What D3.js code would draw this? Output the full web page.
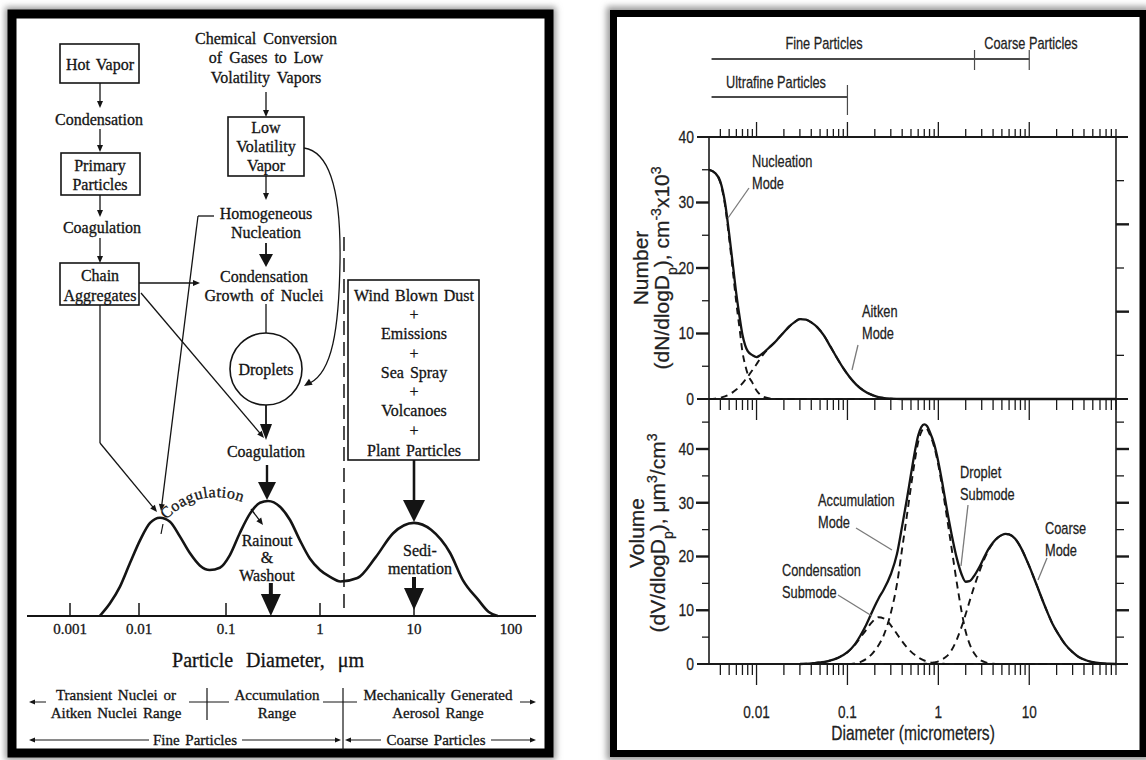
<!DOCTYPE html>
<html>
<head>
<meta charset="utf-8">
<script src="https://cdn.jsdelivr.net/npm/d3@7"></script>
<style>
  body { margin: 0; background: #fff; }
  svg { display: block; }
  .serif { font-family: "Liberation Serif", "Times New Roman", serif; fill: #141414; stroke: #141414; stroke-width: 0.3; }
  .narrow { font-family: "Liberation Sans Narrow", "Arial Narrow", "Liberation Sans", sans-serif; fill: #222; stroke: #222; stroke-width: 0.25; }
</style>
</head>
<body>
<div id="chart"></div>
<script>
// ---- left panel: schematic trimodal distribution ----
const leftTicks = [0.001, 0.01, 0.1, 1, 10, 100];
const leftTickLabels = ["0.001", "0.01", "0.1", "1", "10", "100"];
const leftDiam = [0.0027, 0.0038, 0.0053, 0.0074, 0.0103, 0.0134, 0.0174, 0.0227, 0.0296, 0.0386, 0.05, 0.065, 0.085,
  0.11, 0.14, 0.18, 0.23, 0.28, 0.375, 0.48, 0.61, 0.78, 1.0, 1.28, 1.65, 2.5, 3.9, 6.0, 10, 15, 23.5, 32, 46, 59, 73];
const leftConc = [0, 0.11, 0.255, 0.46, 0.66, 0.81, 0.855, 0.82, 0.69, 0.545, 0.44, 0.40, 0.42,
  0.53, 0.72, 0.89, 0.985, 1.0, 0.95, 0.835, 0.66, 0.50, 0.40, 0.34, 0.30, 0.33, 0.51, 0.72, 0.81, 0.75, 0.55, 0.31, 0.14, 0.035, 0];
const fineCoarseCut = 1.8;

// ---- right panel: number and volume distributions ----
const rightTicks = [0.01, 0.1, 1, 10];
const rightTickLabels = ["0.01", "0.1", "1", "10"];
const yTicks = [0, 10, 20, 30, 40];

const numDiam = [0.003, 0.0035, 0.004, 0.0045, 0.005, 0.0055, 0.006, 0.0065, 0.007, 0.0075, 0.008, 0.009, 0.01, 0.011,
  0.0125, 0.014, 0.016, 0.018, 0.02, 0.023, 0.026, 0.03, 0.035, 0.04, 0.047, 0.055, 0.065, 0.075, 0.09, 0.105,
  0.125, 0.15, 0.18, 0.21, 0.25, 0.3, 0.4, 0.6, 1, 3, 10, 90];
const numTotal = [35, 34.5, 33.2, 30, 25.2, 20.4, 16, 12.6, 9.8, 8.2, 7.3, 6.7, 6.4, 6.7,
  7.3, 7.95, 8.7, 9.5, 10.2, 11.1, 11.7, 12.2, 12.1, 11.7, 10.9, 9.7, 8.0, 6.5, 4.7, 3.4,
  2.2, 1.3, 0.7, 0.35, 0.15, 0.05, 0, 0, 0, 0, 0, 0];
const numNucleation = [35, 34.5, 33, 29.6, 24.5, 19.4, 14.6, 10.8, 7.2, 5.2, 3.8, 2.5, 1.3, 0.65,
  0.25, 0.08, 0.02, 0, 0, 0, 0, 0, 0, 0, 0, 0, 0, 0, 0, 0,
  0, 0, 0, 0, 0, 0, 0, 0, 0, 0, 0, 0];
const numAitken = [0, 0.05, 0.2, 0.4, 0.7, 1.05, 1.45, 1.9, 2.4, 2.9, 3.4, 4.4, 5.3, 6.2,
  7.2, 7.9, 8.7, 9.5, 10.2, 11.1, 11.7, 12.2, 12.1, 11.7, 10.9, 9.7, 8.0, 6.5, 4.7, 3.4,
  2.2, 1.3, 0.7, 0.35, 0.15, 0.05, 0, 0, 0, 0, 0, 0];

const volDiam = [0.03, 0.04, 0.05, 0.06, 0.07, 0.08, 0.1, 0.12, 0.14, 0.16, 0.18, 0.2, 0.22, 0.25,
  0.3, 0.35, 0.4, 0.45, 0.5, 0.55, 0.6, 0.65, 0.7, 0.75, 0.8, 0.9,
  1.0, 1.1, 1.25, 1.4, 1.6, 1.8, 2.0, 2.2, 2.5, 2.8,
  3.2, 3.6, 4, 4.5, 5, 5.5, 6, 7, 8,
  10, 12, 15, 18, 21, 25, 30, 35, 42, 50, 60, 75, 90];
const volTotal = [0, 0.1, 0.3, 0.5, 0.8, 1.2, 2.2, 3.6, 5.4, 7.2, 9.1, 10.8, 12.2, 13.8,
  16.7, 20.4, 25.7, 30.6, 35.3, 39.4, 42.5, 44.1, 44.6, 44.3, 43.3, 40.9,
  37.6, 33.9, 28.5, 24.1, 19.6, 16.7, 15.3, 15.4, 16.5, 17.9,
  19.9, 21.5, 22.6, 23.5, 24, 24.2, 24.1, 23.3, 21.8,
  18.2, 14.8, 10.6, 7.5, 5.5, 3.6, 2.2, 1.3, 0.7, 0.35, 0.15, 0.05, 0];
const volCondensation = [0, 0.1, 0.3, 0.5, 0.8, 1.2, 2.2, 3.5, 5.0, 6.3, 7.5, 8.3, 8.7, 8.5,
  7.2, 5.6, 4.2, 3.1, 2.3, 1.7, 1.25, 0.9, 0.65, 0.5, 0.35, 0.2,
  0.1, 0.05, 0, 0, 0, 0, 0, 0, 0, 0,
  0, 0, 0, 0, 0, 0, 0, 0, 0,
  0, 0, 0, 0, 0, 0, 0, 0, 0, 0, 0, 0, 0];
const volDroplet = [0, 0, 0, 0, 0, 0, 0, 0.1, 0.4, 0.9, 1.6, 2.5, 3.5, 5.3,
  9.5, 14.8, 21.5, 27.5, 33, 37.7, 41.3, 43.2, 43.9, 43.7, 42.8, 40.4,
  37, 33, 27, 21.5, 15, 9.8, 6.0, 3.8, 1.9, 0.9,
  0.4, 0.15, 0.05, 0, 0, 0, 0, 0, 0,
  0, 0, 0, 0, 0, 0, 0, 0, 0, 0, 0, 0, 0];
const volCoarse = [0, 0, 0, 0, 0, 0, 0, 0, 0, 0, 0, 0, 0, 0,
  0, 0, 0, 0, 0, 0, 0, 0, 0.05, 0.08, 0.12, 0.3,
  0.5, 0.85, 1.5, 2.6, 4.6, 6.9, 9.3, 11.6, 14.6, 17,
  19.5, 21.3, 22.5, 23.5, 24, 24.2, 24.1, 23.3, 21.8,
  18.2, 14.8, 10.6, 7.5, 5.5, 3.6, 2.2, 1.3, 0.7, 0.35, 0.15, 0.05, 0];

const ink = "#141414";
const svg = d3.select("#chart").append("svg").attr("width", 1146).attr("height", 760);
svg.append("rect").attr("width", 1146).attr("height", 760).attr("fill", "#fff");

// soft grey halo round the two black frames
svg.append("defs").append("filter").attr("id", "halo").attr("x", "-5%").attr("y", "-5%")
  .attr("width", "110%").attr("height", "110%")
  .append("feGaussianBlur").attr("stdDeviation", 3);
[[12, 14, 537, 739], [613.5, 13.5, 529.5, 740]].forEach(([x, y, w, h]) =>
  svg.append("rect").attr("x", x).attr("y", y).attr("width", w).attr("height", h)
    .attr("fill", "none").attr("stroke", "#9a9a9a").attr("stroke-width", 14).attr("filter", "url(#halo)"));

// text helper; "narrow" text is squeezed horizontally to mimic a condensed sans
function txt(g, x, y, s, size, opts = {}) {
  const cls = opts.cls || "serif";
  const t = g.append("text").attr("dy", "0.35em")
    .attr("text-anchor", opts.anchor || "middle")
    .attr("font-size", size).attr("class", cls).text(s);
  if (cls === "narrow") t.attr("transform", `translate(${x},${y}) scale(${opts.sx || 0.82},1)`);
  else t.attr("x", x).attr("y", y);
  if (opts.ws) t.style("word-spacing", opts.ws + "px");
  return t;
}
function box(g, x0, y0, x1, y1) {
  g.append("rect").attr("x", x0).attr("y", y0).attr("width", x1 - x0).attr("height", y1 - y0)
    .attr("fill", "none").attr("stroke", ink).attr("stroke-width", 1.6);
}
function seg(g, x1, y1, x2, y2, w = 1.3, col = ink) {
  return g.append("line").attr("x1", x1).attr("y1", y1).attr("x2", x2).attr("y2", y2)
    .attr("stroke", col).attr("stroke-width", w);
}
function head(g, x2, y2, a, hl, hw) {
  const bx = x2 - hl * Math.cos(a), by = y2 - hl * Math.sin(a);
  g.append("path")
    .attr("d", `M${x2},${y2}L${bx + hw * Math.sin(a)},${by - hw * Math.cos(a)}L${bx - hw * Math.sin(a)},${by + hw * Math.cos(a)}Z`)
    .attr("fill", ink);
  return [bx, by];
}
function arrow(g, x1, y1, x2, y2, o = {}) {
  const hl = o.hl || 7, hw = o.hw || 3, sw = o.sw || 1.3;
  const a = Math.atan2(y2 - y1, x2 - x1);
  const [bx, by] = head(g, x2, y2, a, hl, hw);
  seg(g, x1, y1, bx + Math.cos(a), by + Math.sin(a), sw);
}

// ================= LEFT PANEL =================
const L = svg.append("g");
L.append("rect").attr("x", 12).attr("y", 14).attr("width", 537).attr("height", 739)
  .attr("fill", "#fff").attr("stroke", "#000").attr("stroke-width", 9);

const xl = d3.scaleLog().domain(leftTicks).range([70, 139, 226, 320, 414, 511]);
const yl = d3.scaleLinear().domain([0, 1]).range([616, 501]);

// flow diagram
txt(L, 266, 38, "Chemical Conversion", 16, { ws: 3 });
txt(L, 266, 57, "of Gases to Low", 16, { ws: 3 });
txt(L, 266, 77, "Volatility Vapors", 16, { ws: 3 });

box(L, 60, 44, 139, 83); txt(L, 100, 64, "Hot Vapor", 16, { ws: 2 });
arrow(L, 100, 83, 100, 108);
txt(L, 99, 119, "Condensation", 16);
arrow(L, 100, 129, 100, 152);
box(L, 61, 153, 140, 195); txt(L, 100, 165, "Primary", 16); txt(L, 100, 184, "Particles", 16);
arrow(L, 100, 195, 100, 217);
txt(L, 102, 227, "Coagulation", 16);
arrow(L, 100, 238, 100, 263);
box(L, 60, 263, 139, 305); txt(L, 100, 275, "Chain", 16); txt(L, 100, 295, "Aggregates", 16);

box(L, 228, 117, 304, 176);
txt(L, 266, 127, "Low", 16); txt(L, 266, 146, "Volatility", 16); txt(L, 266, 165, "Vapor", 16);
arrow(L, 266, 92, 266, 117);
arrow(L, 266, 176, 266, 200);
txt(L, 266, 213, "Homogeneous", 16); txt(L, 266, 232, "Nucleation", 16);
arrow(L, 266, 243, 266, 267, { hl: 13, hw: 7, sw: 1.8 });
txt(L, 264, 276, "Condensation", 16); txt(L, 264, 295, "Growth of Nuclei", 16, { ws: 3 });
seg(L, 266, 304, 266, 333);
L.append("circle").attr("cx", 266).attr("cy", 369).attr("r", 36)
  .attr("fill", "none").attr("stroke", ink).attr("stroke-width", 1.6);
txt(L, 266, 369, "Droplets", 16);
arrow(L, 266, 405, 266, 440, { hl: 16, hw: 6, sw: 1.8 });
txt(L, 266, 451, "Coagulation", 16);
arrow(L, 267, 465, 267, 500, { hl: 18, hw: 9, sw: 2.4 });

// links from chain aggregates and nucleation
arrow(L, 139, 283, 200, 283);
arrow(L, 141, 293, 264, 438);
seg(L, 100, 305, 100, 443);
arrow(L, 100, 443, 157, 512);
seg(L, 214, 216, 198, 216);
arrow(L, 198, 216, 161, 511);
L.append("path").attr("d", "M304,148 C332,152 341,200 340,262 C339,330 332,372 310,383")
  .attr("fill", "none").attr("stroke", ink).attr("stroke-width", 1.3);
head(L, 304, 386, Math.atan2(386 - 370, 304 - 330), 8, 3.5);

// fine / coarse divide
L.append("line").attr("x1", xl(fineCoarseCut)).attr("x2", xl(fineCoarseCut)).attr("y1", 237).attr("y2", 616)
  .attr("stroke", ink).attr("stroke-width", 1.5).attr("stroke-dasharray", "14,7");

box(L, 348, 280, 479, 460);
[["Wind Blown Dust", 295], ["+", 314], ["Emissions", 333], ["+", 353], ["Sea Spray", 372],
 ["+", 391], ["Volcanoes", 410], ["+", 430], ["Plant Particles", 450]]
  .forEach(([s, y]) => txt(L, 414, y, s, 16, { ws: 2 }));
arrow(L, 414, 460, 414, 522, { hl: 22, hw: 11, sw: 2.6 });

// distribution curve
const leftLine = d3.line().x((d, i) => xl(leftDiam[i])).y(d => yl(d)).curve(d3.curveMonotoneX);
L.append("path").attr("d", leftLine(leftConc)).attr("fill", "none").attr("stroke", ink).attr("stroke-width", 2.6);

// curved label and sinks
L.append("path").attr("id", "coagArc").attr("d", "M166,520 Q204,482 254,507").attr("fill", "none");
L.append("text").attr("class", "serif").attr("font-size", 16).style("letter-spacing", "0.5px")
  .append("textPath").attr("href", "#coagArc").text("Coagulation");
arrow(L, 251, 509, 263, 525, { hl: 7, hw: 3 });
seg(L, 163, 524, 161, 534, 1.2);
txt(L, 267, 540, "Rainout", 16);
txt(L, 267, 557, "&", 16);
txt(L, 267, 575, "Washout", 16);
arrow(L, xl(0.3), 583, xl(0.3), 616, { hl: 22, hw: 10, sw: 4 });
txt(L, 420, 550, "Sedi-", 16);
txt(L, 420, 568, "mentation", 16);
arrow(L, xl(10), 577, xl(10), 610, { hl: 22, hw: 10, sw: 4 });

// axis
seg(L, 27, 616, 536, 616, 2.2);
leftTicks.slice(0, 5).forEach(t => seg(L, xl(t), 603, xl(t), 616, 1.5));
leftTicks.forEach((t, i) => txt(L, xl(t), 629, leftTickLabels[i], 15));
txt(L, 268, 660, "Particle Diameter, \u03bcm", 20, { ws: 8 });

// size ranges
txt(L, 116, 695, "Transient Nuclei or", 15, { ws: 2 });
txt(L, 116, 713, "Aitken Nuclei Range", 15, { ws: 2 });
arrow(L, 46, 702, 29, 702, { hl: 6, hw: 2.5, sw: 1 });
seg(L, 189, 702, 229, 702, 1);
seg(L, 207, 688, 207, 720, 1.2);
txt(L, 277, 695, "Accumulation", 15);
txt(L, 277, 713, "Range", 15);
seg(L, 323, 702, 357, 702, 1);
seg(L, 343, 688, 343, 750, 1.2);
txt(L, 438, 695, "Mechanically Generated", 15, { ws: 2 });
txt(L, 438, 713, "Aerosol Range", 15, { ws: 2 });
arrow(L, 520, 702, 536, 702, { hl: 6, hw: 2.5, sw: 1 });
arrow(L, 149, 740, 29, 740, { hl: 6, hw: 2.5, sw: 1 });
txt(L, 195, 740, "Fine Particles", 15, { ws: 2 });
arrow(L, 242, 740, 341, 740, { hl: 6, hw: 2.5, sw: 1 });
arrow(L, 381, 740, 345, 740, { hl: 6, hw: 2.5, sw: 1 });
txt(L, 436, 740, "Coarse Particles", 15, { ws: 2 });
arrow(L, 491, 740, 536, 740, { hl: 6, hw: 2.5, sw: 1 });

// ================= RIGHT PANEL =================
const R = svg.append("g");
R.append("rect").attr("x", 613.5).attr("y", 13.5).attr("width", 529.5).attr("height", 740)
  .attr("fill", "#fff").attr("stroke", "#000").attr("stroke-width", 7);

const xr = d3.scaleLog().domain([0.003, 90]).range([709, 1116]);
const yN = d3.scaleLinear().domain([0, 40]).range([399, 137]);
const yV = d3.scaleLinear().domain([0, 40]).range([664, 449]);
const yNr = d3.scaleLinear().domain([0, 6]).range([399, 137]);
const frame = "#1a1a1a";

// size class bars
const grey = "#4a4a4a";
seg(R, xr(0.0032), 59, xr(2.5), 59, 2, grey);
seg(R, xr(2.5), 59, xr(10), 59, 2, grey);
seg(R, xr(2.5), 50, xr(2.5), 70, 1.2, grey);
seg(R, xr(10), 50, xr(10), 70, 1.2, grey);
seg(R, xr(0.0032), 97, xr(0.1), 97, 2, grey);
seg(R, xr(0.1), 85, xr(0.1), 115, 1.2, grey);
txt(R, 824, 43, "Fine Particles", 17, { cls: "narrow", sx: 0.75 });
txt(R, 1031, 43, "Coarse Particles", 17, { cls: "narrow", sx: 0.75 });
txt(R, 776, 82, "Ultrafine Particles", 17, { cls: "narrow", sx: 0.75 });

// frames
[137, 399, 664].forEach(y => seg(R, 697, y, 1128, y, 1.8, frame));
seg(R, 709, 137, 709, 664, 1.6, frame);
seg(R, 1116, 137, 1116, 664, 1.6, frame);

const logTicks = xr.ticks().filter(t => t > 0.0031);
const isMajor = t => Math.abs(Math.log10(t) - Math.round(Math.log10(t))) < 1e-6;
logTicks.forEach(t => {
  const X = xr(t), m = isMajor(t);
  seg(R, X, 137, X, 137 - (m ? 15 : 8), 1.3, frame);
  seg(R, X, 399, X, 399 + (m ? 21 : 11), 1.3, frame);
  seg(R, X, 664, X, 664 + (m ? 21 : 11), 1.3, frame);
});
rightTicks.forEach((t, i) => txt(R, xr(t), 712, rightTickLabels[i], 17, { cls: "narrow", sx: 0.8 }));
txt(R, 913, 733, "Diameter (micrometers)", 20, { cls: "narrow", sx: 0.78 });

// y ticks
d3.range(5, 40, 5).forEach(v => {
  const m = v % 10 === 0;
  seg(R, 709 - (m ? 13 : 7), yN(v), 709, yN(v), m ? 2.4 : 1.3, frame);
});
d3.range(5, 50, 5).forEach(v => {
  const m = v % 10 === 0;
  seg(R, 709 - (m ? 13 : 7), yV(v), 709, yV(v), m ? 2.4 : 1.3, frame);
  seg(R, 1116, yV(v), 1116 + (m ? 13 : 8), yV(v), m ? 2.4 : 1.3, frame);
});
d3.range(1, 6).forEach(v => {
  const m = v % 2 === 0;
  seg(R, 1116, yNr(v), 1116 + (m ? 13 : 8), yNr(v), m ? 2.4 : 1.3, frame);
});
yTicks.forEach(v => {
  txt(R, 694, yN(v), String(v), 17, { cls: "narrow", anchor: "end", sx: 0.82 });
  txt(R, 694, yV(v), String(v), 17, { cls: "narrow", anchor: "end", sx: 0.82 });
});

// y titles (rotated; local y becomes page x)
function ytitle(yc, b1, b2, first, parts) {
  const g = R.append("g").attr("transform", `translate(0,${yc}) rotate(-90)`);
  g.append("text").attr("class", "narrow").attr("font-size", 21).attr("text-anchor", "middle")
    .attr("y", b1).text(first);
  const t = g.append("text").attr("class", "narrow").attr("font-size", 21).attr("text-anchor", "middle")
    .attr("y", b2);
  parts.forEach(([s, shift]) => {
    const sp = t.append("tspan").text(s);
    if (shift) sp.attr("baseline-shift", shift).attr("font-size", 14);
  });
}
ytitle(268, 648, 669, "Number", [["(dN/dlogD"], ["p", "sub"], ["), cm"], ["-3", "super"], ["x10"], ["3", "super"]]);
ytitle(533, 644, 665, "Volume", [["(dV/dlogD"], ["p", "sub"], ["), \u03bcm"], ["3", "super"], ["/cm"], ["3", "super"]]);

// curves
function curve(diam, vals, y, dashed) {
  const line = d3.line().x((d, i) => xr(diam[i])).y(d => y(d)).curve(d3.curveMonotoneX);
  R.append("path").attr("d", line(vals)).attr("fill", "none").attr("stroke", ink)
    .attr("stroke-width", dashed ? 1.9 : 2.3)
    .attr("stroke-dasharray", dashed ? "7,5" : null);
}
curve(numDiam, numNucleation, yN, true);
curve(numDiam, numAitken, yN, true);
curve(numDiam, numTotal, yN, false);
curve(volDiam, volCondensation, yV, true);
curve(volDiam, volDroplet, yV, true);
curve(volDiam, volCoarse, yV, true);
curve(volDiam, volTotal, yV, false);

// mode labels
const lead = "#7a7a7a";
function note(x, y, lines, lx1, ly1, lx2, ly2) {
  lines.forEach((s, i) => txt(R, x, y + i * 22, s, 16, { cls: "narrow", anchor: "start", sx: 0.8 }));
  seg(R, lx1, ly1, lx2, ly2, 1.3, lead);
}
note(752, 161, ["Nucleation", "Mode"], 749, 188, 728, 218);
note(862, 311, ["Aitken", "Mode"], 858, 345, 852, 370);
note(818, 500, ["Accumulation", "Mode"], 856, 528, 892, 550);
note(782, 570, ["Condensation", "Submode"], 838, 595, 872, 616);
note(960, 472, ["Droplet", "Submode"], 968, 505, 961, 566);
note(1045, 528, ["Coarse", "Mode"], 1047, 558, 1038, 580);
</script>
</body>
</html>
